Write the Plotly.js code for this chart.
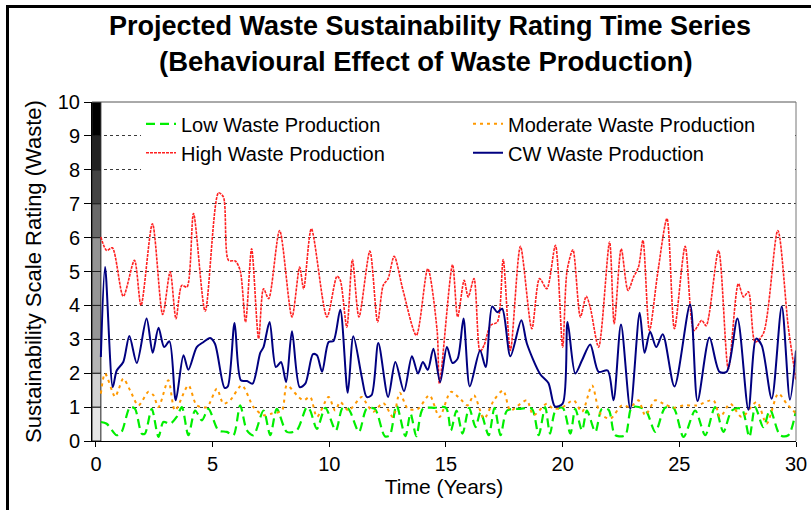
<!DOCTYPE html>
<html><head><meta charset="utf-8">
<script src="https://cdn.plot.ly/plotly-3.0.1.min.js"></script>
<style>
html,body{margin:0;padding:0;background:#fff;}
#wrap{position:relative;width:811px;height:510px;overflow:hidden;}
#frame{position:absolute;left:6px;top:5px;width:820px;height:520px;border-top:3px solid #000;border-left:3px solid #000;pointer-events:none;}
</style>
</head><body>
<div id="wrap"><div id="chart" style="width:811px;height:510px;"></div><div id="frame"></div></div>
<script>
// ---- data ----
const lowT = [0.21,0.46,0.89,1.1,1.46,1.67,1.96,2.1,2.39,2.68,2.89,3.18,3.46,3.68,3.96,4.25,4.54,4.82,5.25,5.61,5.89,6.18,6.47,6.75,7.18,7.47,7.75,8.18,8.6,9.04,9.18,9.47,9.83,10.28,10.57,10.82,11.27,11.6,11.95,12.38,12.59,12.88,13.26,13.48,13.73,14.01,14.5,15.0,15.21,15.45,15.71,15.99,16.27,16.48,16.83,17.08,17.34,17.62,18.19,18.68,18.97,19.25,19.46,19.69,20.0,20.33,20.54,20.83,21.04,21.4,21.68,21.97,22.25,22.68,22.97,23.54,23.97,24.39,24.75,25.18,25.68,26.11,26.53,26.89,27.25,27.67,28.0,28.25,28.6,28.89,29.32,29.67,30.0];
const lowV = [0.56,0.51,0.17,0.27,1.0,0.95,0.22,0.22,0.95,0.12,0.56,0.51,0.71,1.0,0.17,0.9,0.61,0.95,0.31,0.27,0.17,1.05,0.31,0.17,0.9,0.17,0.95,0.27,0.31,1.0,0.9,0.36,0.98,0.31,0.98,0.95,0.27,0.95,0.95,0.14,0.17,1.05,0.14,0.81,0.14,0.95,0.98,0.98,0.31,0.9,0.22,0.98,0.41,0.85,0.17,0.98,0.17,0.9,0.95,0.95,0.17,1.0,0.22,0.9,0.98,0.22,0.95,0.31,0.9,0.27,0.95,0.92,0.17,0.17,1.0,0.92,0.27,0.98,0.98,0.12,0.9,0.17,1.0,0.27,0.9,0.95,0.12,1.0,0.41,0.92,0.17,0.17,0.9];

const modT = [0.21,0.39,0.82,0.96,1.17,1.46,1.82,2.25,2.46,2.68,3.1,3.39,3.96,4.32,4.75,5.18,5.46,5.75,6.25,6.75,7.18,7.54,7.97,8.18,8.68,8.9,9.18,9.47,9.97,10.25,10.47,10.82,11.39,11.6,11.88,12.31,12.73,13.02,13.37,13.8,14.29,14.72,15.21,15.64,15.92,16.2,16.63,17.05,17.45,17.76,18.19,18.47,18.75,19.32,19.6,20.0,20.47,20.83,21.26,21.61,22.04,22.54,22.9,23.25,23.54,23.97,24.32,24.75,25.18,25.75,26.46,26.75,27.18,27.67,28.32,28.74,29.24,29.6,30.0];
const modV = [1.4,1.99,1.3,1.5,1.84,1.5,1.05,1.45,1.35,1.0,1.79,0.9,1.64,1.05,1.0,1.54,1.1,1.2,1.64,1.0,0.76,0.81,0.9,1.64,1.3,1.2,1.3,0.71,1.3,0.9,1.15,0.9,1.3,1.1,0.86,1.12,0.71,1.42,0.95,0.95,1.35,0.71,1.45,1.22,1.05,1.35,0.66,1.2,1.49,0.9,1.1,1.2,0.76,1.1,0.95,1.0,1.2,0.86,1.64,0.81,0.66,1.05,1.0,1.2,0.76,1.2,1.1,0.98,1.05,1.05,1.2,0.71,1.1,0.71,1.15,0.51,1.4,1.1,0.81];

const highT = [0.21,0.46,0.7,1.17,1.65,1.93,2.42,2.86,3.18,3.43,3.68,3.9,4.18,4.68,5.25,5.46,5.68,5.97,6.18,6.41,6.67,6.97,7.18,7.4,7.87,8.4,8.73,8.9,9.23,9.9,10.33,10.47,10.75,10.99,11.27,11.74,12.07,12.31,12.52,12.78,13.16,13.73,14.22,14.62,14.72,15.28,15.5,15.78,15.95,16.2,16.46,16.63,16.91,17.2,17.45,17.76,18.19,18.68,19.01,19.32,19.69,20.0,20.19,20.44,20.76,21.01,21.18,21.54,22.01,22.21,22.51,22.8,23.04,23.25,23.44,23.72,24.07,24.47,24.79,25.25,25.63,25.96,26.15,26.68,27.1,27.53,27.75,27.96,28.25,28.6,29.22,29.67,30.0];
const highV = [6.02,5.62,5.7,4.27,5.33,4.0,6.41,3.73,4.99,3.61,4.59,4.54,6.71,3.83,7.32,7.2,5.33,5.31,5.03,3.51,5.67,3.02,4.49,4.2,6.21,3.66,5.13,4.49,6.26,3.66,4.86,4.74,3.36,5.35,3.66,5.6,3.51,4.59,4.79,5.45,4.44,3.12,5.08,3.26,1.69,5.2,3.66,4.74,4.25,4.79,2.63,2.82,3.41,3.51,5.35,2.67,5.74,3.31,4.79,4.49,5.77,2.77,5.03,5.64,3.66,4.27,3.95,2.77,5.87,3.46,5.67,4.44,4.84,5.13,5.92,3.26,4.94,6.56,3.31,5.74,3.26,3.56,3.4,5.62,2.13,4.64,4.25,4.4,2.92,3.17,6.21,3.36,1.79];

const cwT = [0.21,0.39,0.72,0.89,1.17,1.43,1.75,2.17,2.43,2.68,2.92,3.15,3.42,3.75,3.96,4.32,4.61,4.89,5.1,5.51,5.65,5.94,6.21,6.47,6.71,7.04,7.18,7.44,7.71,7.93,8.15,8.4,8.73,8.97,9.3,9.47,9.69,9.97,10.18,10.47,10.79,11.03,11.39,11.6,11.81,12.1,12.52,12.83,13.2,13.54,13.8,14.01,14.22,14.46,14.75,15.04,15.28,15.5,15.75,16.02,16.46,16.7,16.98,17.2,17.41,17.76,18.23,18.47,19.04,19.39,19.67,20.0,20.21,20.54,20.83,21.18,21.54,21.93,22.18,22.5,22.9,23.3,23.51,23.75,24.01,24.29,24.79,25.46,25.78,26.29,26.72,27.03,27.49,27.96,28.29,28.53,28.96,29.39,29.74,30.0];
const cwV = [2.48,5.13,1.59,2.08,2.33,3.1,2.3,3.61,2.6,3.34,2.77,2.94,1.2,2.53,2.1,2.77,2.92,3.04,2.87,1.57,1.61,3.48,1.79,1.77,1.69,2.6,2.77,3.51,2.18,2.33,1.74,3.24,1.59,1.69,2.56,2.53,2.04,2.92,2.95,3.87,1.42,3.09,1.89,1.3,1.35,2.89,1.3,2.33,1.47,2.5,1.99,2.33,2.1,2.72,1.74,2.77,2.3,2.43,3.61,1.61,2.67,2.18,3.97,3.8,3.9,2.5,3.56,2.87,1.97,1.71,1.02,1.1,3.51,1.99,2.38,2.85,2.04,2.08,1.2,3.44,0.95,3.78,2.6,3.22,2.77,3.15,1.61,4.03,1.18,3.05,2.04,2.04,3.61,0.92,3.02,2.82,1.25,3.97,1.22,2.67];

// rating scale band (levels of the grey sustainability scale)
const bandBase   = [-0.33,0,1,2,3,4,5,6,7,8,9];
const bandHeight = [0.33,1,1,1,1,1,1,1,1,1,1];
const seriesNames = ["Low Waste Production","Moderate Waste Production","High Waste Production","CW Waste Production"];
const xTicks = [0,5,10,15,20,25,30];

// ---- styles ----
const bandColors = ["#ffffff","#e6e6e6","#d2d2d2","#b4b4b4","#969696","#969696","#939393","#6a6a6a","#444444","#222222","#000000"];
const FONT = "Liberation Sans, Arial, sans-serif";

const traces = [
  {type:"bar", x:bandBase.map(()=>0.02), y:bandHeight, base:bandBase, width:0.38,
   marker:{color:bandColors, line:{color:"#222", width:1}}, showlegend:false, hoverinfo:"skip", cliponaxis:false},
  {type:"scatter", mode:"lines", name:seriesNames[0], x:lowT, y:lowV,
   line:{color:"#00ee00", width:2.2, dash:"9px,5px", shape:"spline", smoothing:0.8}},
  {type:"scatter", mode:"lines", name:seriesNames[1], x:modT, y:modV,
   line:{color:"#ff9900", width:2, dash:"3px,4px", shape:"spline", smoothing:0.8}},
  {type:"scatter", mode:"lines", name:seriesNames[2], x:highT, y:highV,
   line:{color:"#ff2020", width:1.6, dash:"3px,1px", shape:"spline", smoothing:0.8}},
  {type:"scatter", mode:"lines", name:seriesNames[3], x:cwT, y:cwV,
   line:{color:"#000080", width:2, shape:"spline", smoothing:0.8}}
];

const layout = {
  width:811, height:510,
  margin:{l:92, r:15, t:102, b:69},
  paper_bgcolor:"#fff", plot_bgcolor:"#fff",
  font:{family:FONT, color:"#000", size:20},
  title:{text:"Projected Waste Sustainability Rating Time Series", font:{family:FONT, size:27, weight:"bold", color:"#000"},
         xref:"container", x:430/811, xanchor:"center", yref:"container", y:1-26/510, yanchor:"middle"},
  annotations:[{text:"(Behavioural Effect of Waste Production)", xref:"paper", yref:"paper",
    x:(426-92)/704, y:(440.7-61)/339, xanchor:"center", yanchor:"middle", showarrow:false,
    font:{family:FONT, size:27.5, weight:"bold", color:"#000"}}],
  xaxis:{range:[-0.17,30], tickvals:xTicks, ticks:"outside", ticklen:5, tickcolor:"#000",
    showline:true, linecolor:"#000", linewidth:1, showgrid:false, zeroline:false,
    tickfont:{size:20}, title:{text:"Time (Years)", font:{size:21}, standoff:4}},
  yaxis:{range:[0,10], dtick:1, ticks:"outside", ticklen:7, tickcolor:"#000",
    showline:true, linecolor:"#000", linewidth:1, showgrid:true, gridcolor:"#3a3a3a", griddash:"3px,3px", gridwidth:1,
    zeroline:false, tickfont:{size:20}, title:{text:"Sustainability Scale Rating (Waste)", font:{size:22}, standoff:10}},
  shapes:[
    {type:"line", xref:"paper", yref:"paper", x0:0, x1:1, y0:1, y1:1, line:{color:"#555", width:1}},
    {type:"line", xref:"paper", yref:"paper", x0:1, x1:1, y0:0, y1:1, line:{color:"#777", width:1}}
  ],
  legend:{orientation:"h", x:(141-92)/704, y:(440.7-104)/339, xanchor:"left", yanchor:"top",
    bgcolor:"#fff", borderwidth:0, entrywidth:282, entrywidthmode:"pixels", font:{size:20}, tracegroupgap:0},
  showlegend:true, barmode:"overlay", bargap:0
};

Plotly.newPlot("chart", traces, layout, {displayModeBar:false, staticPlot:true});
</script>
</body></html>
